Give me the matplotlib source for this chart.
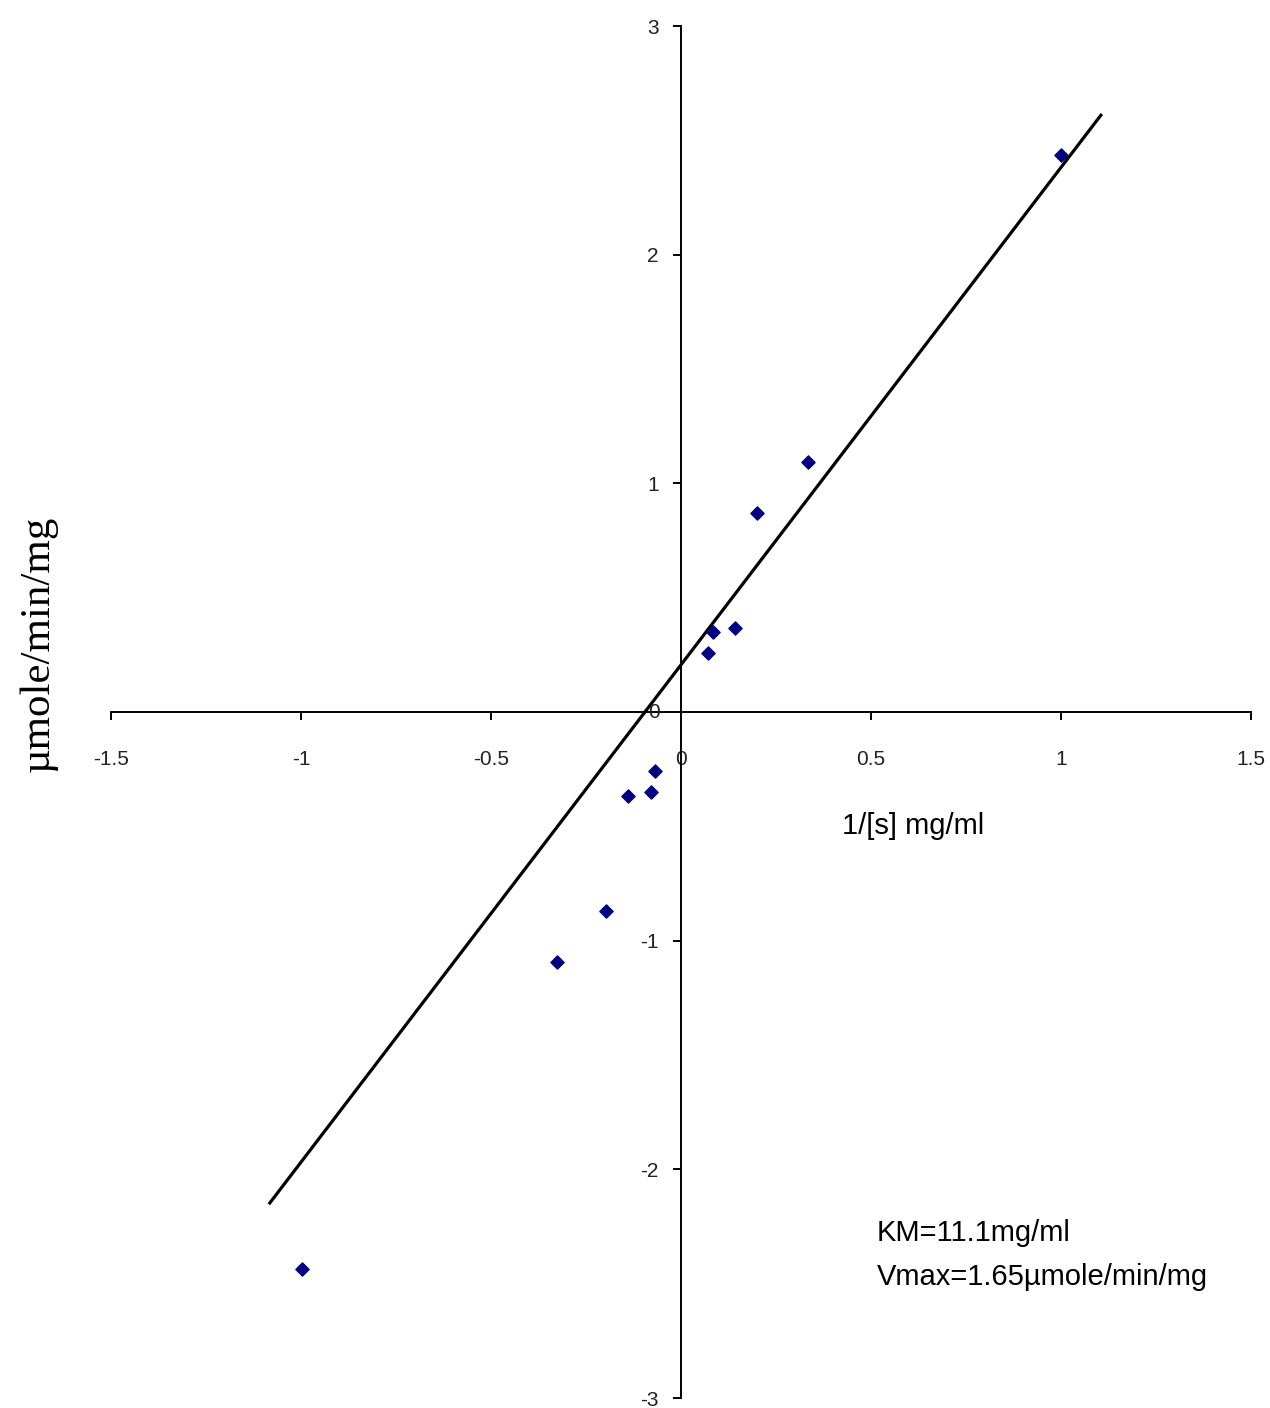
import matplotlib
matplotlib.use("Agg")
import matplotlib.pyplot as plt
from matplotlib import font_manager

# Lineweaver-Burk style data: 1/[s] vs rate
inv_s = [1.0, 0.333, 0.2, 0.143, 0.083, 0.071, -0.068, -0.079, -0.139, -0.197, -0.326, -0.997]
rate = [2.435, 1.093, 0.87, 0.367, 0.35, 0.258, -0.258, -0.35, -0.367, -0.87, -1.093, -2.435]

# trend line end points
line_x = [-1.082, 1.105]
line_y = [-2.147, 2.610]

xticks = [-1.5, -1, -0.5, 0, 0.5, 1, 1.5]
xticklabels = ["-1.5", "-1", "-0.5", "0", "0.5", "1", "1.5"]
yticks = [-3, -2, -1, 1, 2, 3]
yticklabels = ["-3", "-2", "-1", "1", "2", "3"]

names = {f.name for f in font_manager.fontManager.ttflist}
tick_font = "Liberation Sans Narrow" if "Liberation Sans Narrow" in names else "Liberation Sans"

fig = plt.figure(figsize=(12.7, 14.08), dpi=100)
ax = fig.add_axes([0.0874, 0.0071, 0.8976, 0.9744])

ax.plot(line_x, line_y, color="black", lw=2.3)
ax.scatter(inv_s, rate, marker="D", s=45, color="#000080", zorder=3)

ax.set_xlim(-1.5, 1.5)
ax.set_ylim(-3, 3)

ax.spines["left"].set_position(("data", 0))
ax.spines["bottom"].set_position(("data", 0))
ax.spines["right"].set_visible(False)
ax.spines["top"].set_visible(False)
for s in ("left", "bottom"):
    ax.spines[s].set_linewidth(1.4)

ax.set_xticks(xticks)
ax.set_xticklabels(xticklabels, fontfamily=tick_font, fontsize=15, color="#222222")
ax.set_yticks(yticks)
ax.set_yticklabels(yticklabels, fontfamily=tick_font, fontsize=15, color="#222222")
ax.tick_params(axis="x", direction="out", length=6, width=1.4, pad=21)
ax.tick_params(axis="y", direction="out", length=6, width=1.4, pad=10)

# the "0" label next to the origin on the y axis
ax.text(-0.07, 0, "0", fontfamily=tick_font, fontsize=15, color="#222222",
        ha="center", va="center")

ax.text(0.61, -0.5, "1/[s] mg/ml", fontfamily=tick_font, fontsize=21,
        ha="center", va="center")

fig.text(0.03, 0.543, "µmole/min/mg", rotation=90, fontfamily="Liberation Serif",
         fontsize=31, ha="center", va="center")

ax.text(0.515, -2.28, "KM=11.1mg/ml", fontfamily=tick_font,
        fontsize=21, ha="left", va="center")
ax.text(0.515, -2.47, "Vmax=1.65µmole/min/mg", fontfamily=tick_font,
        fontsize=21, ha="left", va="center")

fig.savefig("out.png", dpi=100, facecolor="white")
